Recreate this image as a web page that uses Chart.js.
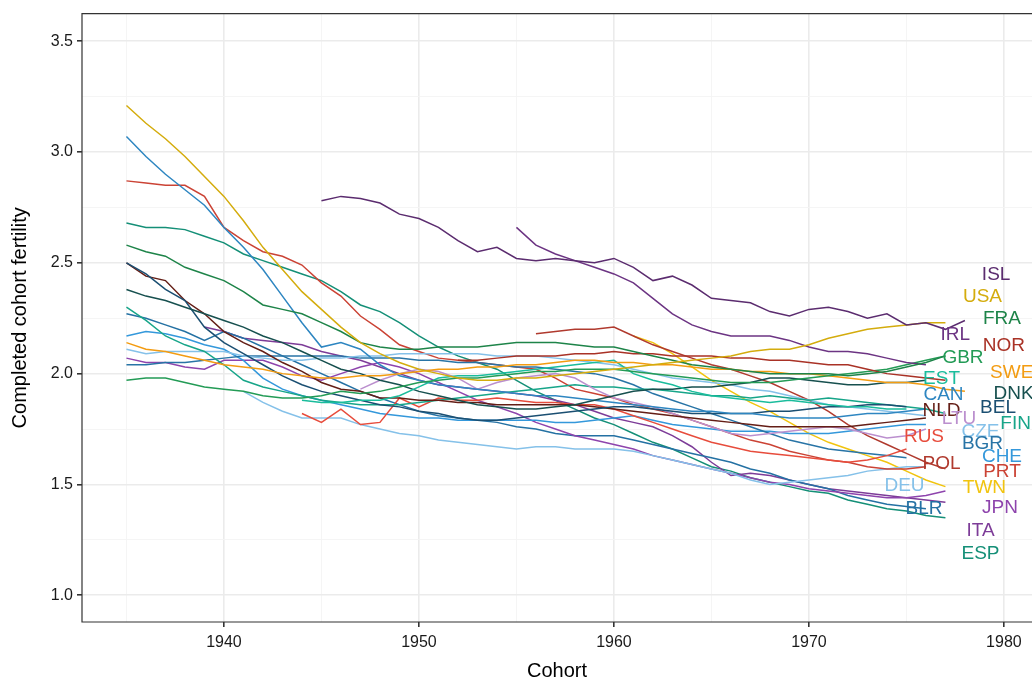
<!DOCTYPE html>
<html lang="en">
<head>
<meta charset="UTF-8">
<title>Completed cohort fertility</title>
<script src="https://cdn.jsdelivr.net/npm/chart.js@4.4.0/dist/chart.umd.min.js"></script>
<style>
  html, body { margin: 0; padding: 0; background: #fff; overflow: hidden; }
  #wrap { width: 1032px; height: 684px; position: relative; }
</style>
</head>
<body>
<div id="wrap"><canvas id="myChart"></canvas></div>
<script>
  // country codes, first cohort of each series
  var countries = ["ISL","USA","FRA","IRL","NOR","GBR","SWE","EST","DNK","CAN","BEL","NLD","LTU",
                   "FIN","RUS","CZE","BGR","CHE","POL","PRT","DEU","TWN","JPN","BLR","ITA","ESP"];
  var startYear = [1945,1935,1935,1955,1952,1935,1935,1944,1935,1935,1935,1935,1947,
                   1935,1944,1935,1935,1935,1956,1935,1941,1961,1935,1935,1939,1935];

  // completed cohort fertility, one value per cohort year
  var isl = [2.78,2.80,2.79,2.77,2.72,2.70,2.66,2.60,2.55,2.57,2.52,2.51,2.52,2.51,2.50,2.52,2.48,2.42,2.44,2.40,2.34,2.33,2.32,2.28,2.26,2.29,2.30,2.28,2.25,2.27,2.22,2.23,2.20,2.24];
  var usa = [3.21,3.13,3.06,2.98,2.89,2.80,2.69,2.57,2.47,2.37,2.29,2.21,2.14,2.09,2.05,2.02,2.00,1.98,1.97,1.97,1.98,1.98,1.99,2.00,2.01,2.02,2.03,2.04,2.05,2.06,2.07,2.08,2.10,2.11,2.11,2.13,2.16,2.18,2.20,2.21,2.22,2.23,2.23];
  var fra = [2.58,2.55,2.53,2.48,2.45,2.42,2.37,2.31,2.29,2.27,2.23,2.19,2.14,2.12,2.11,2.11,2.12,2.12,2.12,2.13,2.14,2.14,2.14,2.13,2.12,2.12,2.10,2.08,2.06,2.04,2.03,2.02,2.01,2.00,2.00,2.00,2.00,1.99,2.00,2.01,2.03,2.05,2.08];
  var irl = [2.66,2.58,2.54,2.51,2.48,2.45,2.41,2.34,2.27,2.22,2.19,2.17,2.17,2.17,2.15,2.12,2.10,2.10,2.09,2.07,2.05,2.04];
  var nor = [2.06,2.06,2.07,2.08,2.08,2.08,2.09,2.09,2.10,2.09,2.09,2.08,2.08,2.08,2.07,2.07,2.06,2.06,2.05,2.04,2.04,2.02,2.00,1.99,1.98,1.97];
  var gbr = [1.97,1.98,1.98,1.96,1.94,1.93,1.92,1.90,1.89,1.89,1.90,1.92,1.91,1.92,1.94,1.96,1.97,1.98,1.98,1.99,2.00,2.01,2.01,2.02,2.02,2.02,2.01,2.00,1.99,1.98,1.97,1.96,1.96,1.96,1.97,1.98,1.99,2.00,2.01,2.02,2.04,2.06,2.08];
  var swe = [2.14,2.11,2.10,2.08,2.06,2.04,2.03,2.02,2.00,1.99,1.98,1.98,1.99,1.99,2.00,2.01,2.02,2.02,2.03,2.03,2.04,2.04,2.05,2.06,2.06,2.05,2.05,2.04,2.04,2.03,2.02,2.02,2.01,2.01,2.00,2.00,1.99,1.98,1.97,1.96,1.96,1.95,1.93,1.92];
  var est = [1.88,1.87,1.87,1.88,1.88,1.90,1.94,1.98,1.99,1.99,2.00,2.01,2.02,2.03,2.04,2.05,2.06,2.00,1.97,1.95,1.92,1.90,1.89,1.88,1.87,1.88,1.87,1.86,1.85,1.85,1.84,1.84];
  var dnk = [2.38,2.35,2.33,2.30,2.27,2.24,2.21,2.17,2.14,2.10,2.06,2.02,2.00,1.97,1.95,1.92,1.90,1.88,1.86,1.85,1.84,1.84,1.85,1.86,1.88,1.90,1.92,1.93,1.93,1.94,1.94,1.95,1.96,1.98,1.98,1.97,1.96,1.95,1.95,1.96,1.96,1.97];
  var can = [3.07,2.98,2.90,2.83,2.76,2.66,2.57,2.47,2.35,2.23,2.12,2.14,2.11,2.04,1.99,1.97,1.95,1.94,1.93,1.92,1.91,1.90,1.90,1.89,1.88,1.87,1.86,1.85,1.84,1.83,1.83,1.82,1.82,1.81,1.80,1.80,1.80,1.81,1.82,1.82,1.83,1.84];
  var bel = [2.50,2.45,2.38,2.33,2.21,2.14,2.09,2.04,1.99,1.95,1.92,1.90,1.88,1.86,1.85,1.83,1.82,1.80,1.79,1.79,1.80,1.81,1.82,1.83,1.84,1.85,1.85,1.84,1.83,1.82,1.82,1.82,1.82,1.83,1.83,1.84,1.85,1.85,1.86,1.86,1.85];
  var nld = [2.50,2.44,2.42,2.33,2.27,2.19,2.14,2.10,2.05,2.01,1.96,1.93,1.92,1.89,1.89,1.88,1.88,1.87,1.87,1.86,1.86,1.86,1.86,1.86,1.85,1.84,1.83,1.82,1.81,1.80,1.79,1.78,1.77,1.76,1.76,1.76,1.76,1.76,1.77,1.78,1.79,1.80];
  var ltu = [1.93,1.97,2.00,2.02,2.01,1.98,1.93,1.96,1.98,1.99,2.00,1.98,1.93,1.89,1.87,1.85,1.82,1.79,1.76,1.73,1.72,1.73,1.74,1.75,1.76,1.75,1.73,1.71,1.72,1.75];
  var fin = [2.30,2.24,2.17,2.13,2.10,2.04,1.97,1.94,1.92,1.90,1.88,1.87,1.86,1.86,1.86,1.87,1.88,1.89,1.90,1.91,1.92,1.93,1.94,1.95,1.94,1.94,1.93,1.93,1.92,1.91,1.90,1.90,1.89,1.90,1.89,1.88,1.89,1.88,1.87,1.86,1.85,1.84,1.82];
  var rus = [1.82,1.78,1.84,1.77,1.78,1.89,1.85,1.89,1.88,1.88,1.89,1.88,1.87,1.87,1.86,1.86,1.84,1.81,1.78,1.75,1.72,1.69,1.67,1.65,1.64,1.63,1.62,1.61,1.60,1.61,1.63,1.66];
  var cze = [2.11,2.09,2.10,2.10,2.10,2.10,2.08,2.07,2.06,2.06,2.07,2.07,2.08,2.08,2.09,2.09,2.09,2.09,2.09,2.08,2.08,2.08,2.07,2.06,2.05,2.04,2.02,2.00,1.98,1.97,1.96,1.95,1.93,1.92,1.90,1.88,1.86,1.85,1.84,1.83,1.82,1.81];
  var bgr = [2.04,2.04,2.05,2.05,2.06,2.07,2.08,2.08,2.08,2.08,2.08,2.08,2.07,2.07,2.07,2.06,2.06,2.05,2.05,2.04,2.03,2.03,2.02,2.01,2.00,1.98,1.95,1.91,1.88,1.85,1.82,1.79,1.76,1.73,1.70,1.68,1.66,1.65,1.64,1.63,1.62];
  var che = [2.17,2.19,2.18,2.16,2.13,2.11,2.06,1.98,1.93,1.90,1.88,1.86,1.84,1.82,1.81,1.80,1.80,1.79,1.79,1.79,1.79,1.79,1.78,1.78,1.79,1.80,1.81,1.79,1.77,1.76,1.75,1.74,1.74,1.74,1.73,1.73,1.73,1.74,1.75,1.76,1.77,1.77];
  var pol = [2.18,2.19,2.20,2.20,2.21,2.17,2.13,2.10,2.07,2.04,2.02,1.99,1.96,1.92,1.88,1.83,1.77,1.72,1.68,1.64,1.60,1.57];
  var prt = [2.87,2.86,2.85,2.85,2.80,2.66,2.60,2.55,2.53,2.49,2.41,2.35,2.26,2.20,2.13,2.10,2.07,2.06,2.05,2.04,2.03,2.02,1.98,1.93,1.91,1.89,1.86,1.84,1.82,1.79,1.76,1.73,1.70,1.68,1.65,1.63,1.61,1.60,1.58,1.57,1.57,1.58];
  var deu = [1.92,1.87,1.83,1.80,1.80,1.80,1.77,1.75,1.73,1.72,1.70,1.69,1.68,1.67,1.66,1.67,1.67,1.66,1.66,1.66,1.65,1.63,1.61,1.59,1.57,1.55,1.52,1.50,1.51,1.52,1.53,1.54,1.56,1.57,1.58,1.58];
  var twn = [2.17,2.14,2.09,2.03,1.97,1.92,1.87,1.83,1.78,1.73,1.69,1.66,1.63,1.60,1.56,1.52,1.49];
  var jpn = [2.07,2.05,2.05,2.03,2.02,2.06,2.06,2.06,2.03,1.99,1.97,2.00,2.03,2.05,2.03,2.00,1.96,1.92,1.88,1.85,1.82,1.78,1.75,1.72,1.70,1.68,1.66,1.63,1.61,1.59,1.57,1.55,1.53,1.51,1.50,1.48,1.47,1.46,1.45,1.44,1.44,1.45,1.47];
  var blr = [2.27,2.25,2.22,2.19,2.15,2.19,2.16,2.12,2.08,2.04,2.00,1.96,1.92,1.89,1.86,1.83,1.81,1.80,1.79,1.78,1.76,1.75,1.73,1.72,1.72,1.72,1.70,1.68,1.66,1.64,1.62,1.60,1.57,1.55,1.52,1.50,1.48,1.45,1.43,1.41,1.40,1.39];
  var ita = [2.21,2.19,2.16,2.15,2.14,2.13,2.10,2.08,2.06,2.03,2.00,1.97,1.95,1.94,1.93,1.92,1.91,1.90,1.88,1.86,1.83,1.80,1.78,1.76,1.72,1.67,1.60,1.54,1.55,1.54,1.52,1.50,1.48,1.47,1.46,1.45,1.44,1.43,1.42];
  var esp = [2.68,2.66,2.66,2.65,2.62,2.59,2.54,2.51,2.48,2.45,2.42,2.37,2.31,2.28,2.23,2.17,2.12,2.08,2.05,2.02,1.97,1.92,1.88,1.84,1.80,1.77,1.73,1.69,1.66,1.62,1.58,1.56,1.53,1.51,1.49,1.47,1.46,1.43,1.41,1.39,1.38,1.36,1.35];

  var series = [isl,usa,fra,irl,nor,gbr,swe,est,dnk,can,bel,nld,ltu,fin,rus,cze,bgr,che,pol,prt,deu,twn,jpn,blr,ita,esp];

  // where each country code sits (cohort, fertility)
  var labelYear  = [1979.6,1978.9,1979.9,1977.5,1980.0,1977.9,1980.4,1976.8,1980.5,1976.9,1979.7,1976.8,1977.7,
                    1980.6,1975.9,1978.8,1978.9,1979.9,1976.8,1979.9,1974.9,1979.0,1979.8,1975.9,1978.8,1978.8];
  var labelValue = [2.444,2.346,2.248,2.176,2.127,2.073,2.006,1.979,1.908,1.903,1.845,1.832,1.796,
                    1.774,1.716,1.738,1.684,1.626,1.595,1.555,1.492,1.487,1.394,1.389,1.291,1.188];

  var xTicks = [1940,1950,1960,1970,1980];
  var yTicks = [1.0,1.5,2.0,2.5,3.0,3.5];

  var colores = ["#5b2c6f","#d4ac0d","#1e8449","#6c3483","#a93226","#239b56","#f39c12","#1abc9c","#17504f",
                 "#2e86c1","#1b4f72","#641e16","#bb8fce","#17a589","#e74c3c","#85c1e9","#2874a6","#3498db",
                 "#b03a2e","#cb4335","#85c1e9","#f1c40f","#8e44ad","#2471a3","#7d3c98","#148f77"];

  var FONT = "'Liberation Sans', Arial, Helvetica, sans-serif";

  var datasets = series.map(function(vals, i) {
    return {
      label: countries[i],
      data: vals.map(function(v, j) { return { x: startYear[i] + j, y: v }; }),
      borderColor: colores[i],
      borderWidth: 1.5,
      pointRadius: 0,
      tension: 0,
      fill: false
    };
  });

  // major ticks plus the minor ones halfway between, kept inside the axis range
  function withMinor(major, step, lo, hi) {
    var out = [];
    for (var i = 0; i < major.length; i++) {
      out.push(major[i] - step);
      out.push(major[i]);
    }
    out.push(major[major.length - 1] + step);
    return out.filter(function(v) { return v >= lo && v <= hi; });
  }
  function isMajor(list, v) {
    return list.some(function(m) { return Math.abs(m - v) < 1e-6; });
  }

  var frame = {
    id: 'frame',
    afterDraw: function(chart) {
      var a = chart.chartArea, c = chart.ctx;
      c.save();
      c.strokeStyle = '#333333';
      c.lineWidth = 1.2;
      c.beginPath();
      c.moveTo(a.right + 5, a.top);
      c.lineTo(a.left, a.top);
      c.lineTo(a.left, a.bottom);
      c.lineTo(a.right + 5, a.bottom);
      c.stroke();
      c.restore();
    }
  };

  var codes = {
    id: 'codes',
    afterDatasetsDraw: function(chart) {
      var c = chart.ctx, xs = chart.scales.x, ys = chart.scales.y;
      c.save();
      c.font = '19px ' + FONT;
      c.textAlign = 'center';
      c.textBaseline = 'middle';
      countries.forEach(function(code, i) {
        c.fillStyle = colores[i];
        c.fillText(code, xs.getPixelForValue(labelYear[i]), ys.getPixelForValue(labelValue[i]));
      });
      c.restore();
    }
  };

  var ctx = document.getElementById('myChart').getContext('2d');
  var chart = new Chart(ctx, {
    type: 'line',
    data: { datasets: datasets },
    plugins: [codes, frame],
    options: {
      responsive: true,
      maintainAspectRatio: false,
      animation: false,
      layout: { padding: { top: 8, right: 0, left: 0, bottom: 0 } },
      plugins: { legend: { display: false }, tooltip: { enabled: false } },
      scales: {
        x: {
          type: 'linear',
          min: 1932.72,
          max: 1981.44,
          afterBuildTicks: function(axis) {
            axis.ticks = withMinor(xTicks, 5, axis.min, axis.max).map(function(v) { return { value: v }; });
          },
          afterFit: function(scale) { scale.height = 62; scale.paddingRight = 0; },
          border: { display: false },
          grid: {
            color: function(c) { return isMajor(xTicks, c.tick.value) ? '#ebebeb' : '#f4f4f4'; },
            lineWidth: function(c) { return isMajor(xTicks, c.tick.value) ? 1.6 : 0.9; },
            tickColor: function(c) { return isMajor(xTicks, c.tick.value) ? '#333333' : 'rgba(0,0,0,0)'; },
            tickLength: 5
          },
          ticks: {
            autoSkip: false,
            maxRotation: 0,
            padding: 6,
            color: '#1a1a1a',
            font: { family: FONT, size: 16 },
            callback: function(v) { return isMajor(xTicks, v) ? String(Math.round(v)) : ''; }
          },
          title: {
            display: true,
            text: 'Cohort',
            color: '#000',
            font: { family: FONT, size: 20 },
            padding: { top: 0, bottom: 1 }
          }
        },
        y: {
          type: 'linear',
          min: 0.879,
          max: 3.625,
          afterBuildTicks: function(axis) {
            axis.ticks = withMinor(yTicks, 0.25, axis.min, axis.max).map(function(v) { return { value: v }; });
          },
          afterFit: function(scale) { scale.width = 82; },
          border: { display: false },
          grid: {
            color: function(c) { return isMajor(yTicks, c.tick.value) ? '#ebebeb' : '#f4f4f4'; },
            lineWidth: function(c) { return isMajor(yTicks, c.tick.value) ? 1.6 : 0.9; },
            tickColor: function(c) { return isMajor(yTicks, c.tick.value) ? '#333333' : 'rgba(0,0,0,0)'; },
            tickLength: 5
          },
          ticks: {
            autoSkip: false,
            padding: 4,
            color: '#1a1a1a',
            font: { family: FONT, size: 16 },
            callback: function(v) { return isMajor(yTicks, v) ? v.toFixed(1) : ''; }
          },
          title: {
            display: true,
            text: 'Completed cohort fertility',
            color: '#000',
            font: { family: FONT, size: 20 },
            padding: { top: 8, bottom: 0 }
          }
        }
      }
    }
  });
</script>
</body>
</html>
